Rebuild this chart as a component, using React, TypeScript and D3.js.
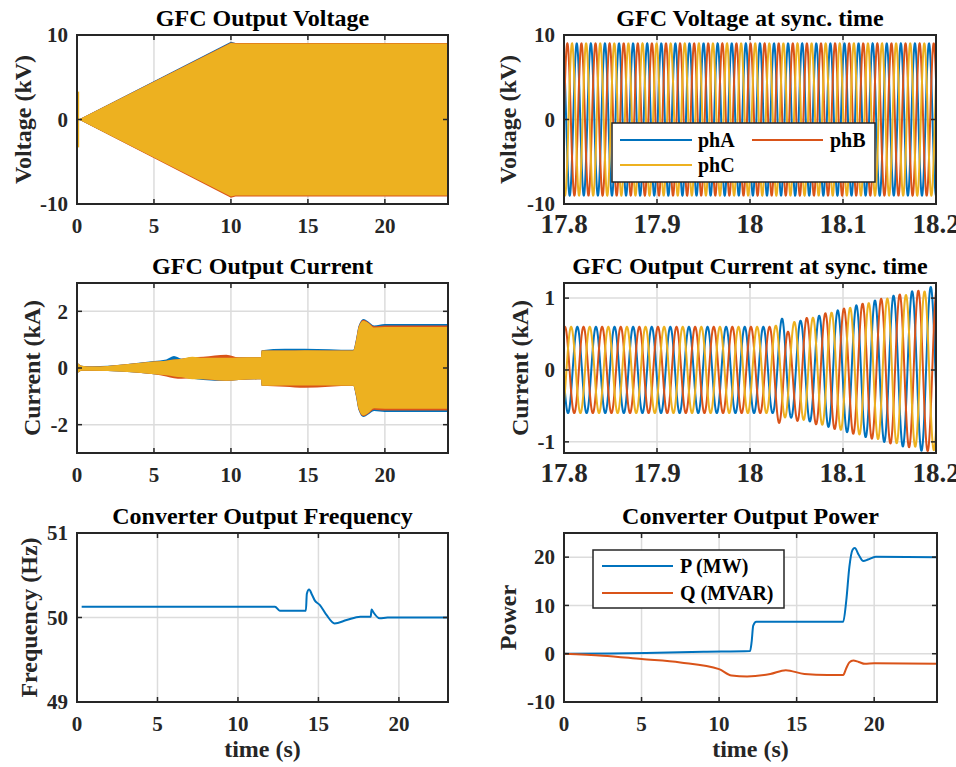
import React from 'react';
import * as d3 from 'd3';

const BLUE = '#0072BD';
const ORANGE = '#D95319';
const YELLOW = '#EDB120';
const INK = '#262626';
const GRID = '#dcdcdc';
const FONT = '"Liberation Serif","Times New Roman",Times,serif';

// ---------- Panel 1: GFC output voltage envelope (kV) ----------
const vEnvT = [0.12, 10, 10.3, 24.1];
const vBlueUp = [0, 9.2, 9.05, 9.05];
const vBlueLo = [0, -9.1, -9.0, -9.0];
const vOrangeUp = [0, 9.1, 9.05, 9.05];
const vOrangeLo = [0, -9.25, -9.1, -9.1];
const vYellowUp = [0, 9.05, 9.0, 9.0];
const vYellowLo = [0, -9.1, -9.0, -9.0];
const vSpikeT = 0.06;
const vSpikeAmp = 3.3;

// ---------- Panel 2: voltage at sync time ----------
const vSyncDomain = [17.8, 18.2];
const vSyncAmp = 9.0;
const vSyncFreq = 66;
const vSyncPeakB = 17.8036;

// ---------- Panel 3: GFC output current envelope (kA) ----------
const cT = [0, 0.3, 1, 5, 5.8, 6.3, 6.8, 7.5, 8.2, 9.7, 10.5, 11.95, 12.0, 13.5, 14.8, 17.95, 18.1, 18.3, 18.6, 18.9, 19.3, 20, 24.1];
const cYellowUp = [0.2, 0.08, 0.05, 0.23, 0.26, 0.3, 0.33, 0.4, 0.36, 0.36, 0.37, 0.38, 0.62, 0.62, 0.63, 0.62, 0.9, 1.45, 1.67, 1.6, 1.43, 1.45, 1.45];
const cYellowLo = [-0.2, -0.1, -0.1, -0.22, -0.26, -0.3, -0.33, -0.4, -0.4, -0.45, -0.42, -0.4, -0.63, -0.62, -0.62, -0.63, -0.9, -1.45, -1.68, -1.6, -1.42, -1.44, -1.44];
const cBlueUp = [0.2, 0.08, 0.06, 0.25, 0.3, 0.42, 0.33, 0.38, 0.36, 0.36, 0.37, 0.38, 0.63, 0.68, 0.68, 0.64, 0.95, 1.5, 1.73, 1.65, 1.5, 1.55, 1.55];
const cBlueLo = [-0.2, -0.1, -0.1, -0.22, -0.26, -0.3, -0.33, -0.38, -0.42, -0.45, -0.42, -0.4, -0.63, -0.62, -0.62, -0.63, -0.95, -1.5, -1.73, -1.65, -1.52, -1.55, -1.55];
const cOrangeUp = [0.2, 0.08, 0.05, 0.23, 0.26, 0.3, 0.33, 0.38, 0.4, 0.47, 0.38, 0.38, 0.62, 0.62, 0.62, 0.62, 0.92, 1.47, 1.7, 1.62, 1.47, 1.5, 1.5];
const cOrangeLo = [-0.2, -0.1, -0.1, -0.22, -0.3, -0.36, -0.38, -0.36, -0.4, -0.45, -0.42, -0.4, -0.63, -0.66, -0.7, -0.63, -0.92, -1.47, -1.7, -1.62, -1.47, -1.5, -1.5];

// ---------- Panel 4: current at sync time ----------
const iSyncDomain = [17.8, 18.2];
const iSyncFreq = 50;
const iSyncPeakB = 17.801;
const iT = [17.8, 18.025, 18.035, 18.045, 18.06, 18.1, 18.15, 18.2];
const iAmpA = [0.6, 0.6, 0.72, 0.66, 0.7, 0.85, 1.02, 1.17];
const iAmpB = [0.6, 0.6, 0.7, 0.6, 0.72, 0.85, 1.02, 1.15];
const iAmpC = [0.6, 0.6, 0.66, 0.66, 0.7, 0.84, 1.0, 1.12];
const iOffB = [0, 0, -0.12, -0.1, 0, 0, 0, 0];

// ---------- Panel 5: converter output frequency (Hz) ----------
const fT = [0.29, 12.3, 12.6, 14.22, 14.28, 14.42, 14.6, 14.78, 15.08, 15.5, 16.0, 16.75, 17.6, 18.25, 18.3, 18.42, 18.8, 19.3, 20, 23.05];
const fV = [50.128, 50.128, 50.08, 50.08, 50.28, 50.33, 50.27, 50.2, 50.15, 50.03, 49.93, 49.97, 50.01, 50.01, 50.095, 50.06, 49.99, 50.0, 50.0, 50.0];

// ---------- Panel 6: converter output power ----------
const pT = [0, 3, 6, 9, 12.0, 12.1, 12.2, 12.4, 15, 18.0, 18.2, 18.4, 18.6, 18.75, 19.0, 19.3, 19.6, 20.1, 24.1];
const pV = [0, 0.05, 0.2, 0.4, 0.55, 2.5, 5.8, 6.6, 6.6, 6.6, 11, 18, 21.5, 21.9, 20.5, 19.2, 19.5, 20.1, 20.0];
const qT = [0, 2.5, 5, 7.5, 10, 10.8, 11.8, 13.3, 14.3, 15.5, 17, 18.0, 18.2, 18.4, 18.65, 19.0, 19.4, 20, 24.1];
const qV = [0, -0.4, -1.1, -1.8, -3.2, -4.5, -4.7, -4.2, -3.4, -4.2, -4.4, -4.4, -3.0, -1.8, -1.4, -1.7, -2.1, -2.0, -2.1];

const ticks0to20 = [0, 5, 10, 15, 20];
const ticksSync = [17.8, 17.9, 18, 18.1, 18.2];
const ticksSyncLabels = ['17.8', '17.9', '18', '18.1', '18.2'];

type Scale = d3.ScaleLinear<number, number>;

interface AxesProps {
  id: string;
  left: number; top: number; width: number; height: number;
  xDomain: number[]; yDomain: number[];
  xTicks: number[]; yTicks: number[];
  xTickLabels?: string[];
  xTickFont: number;
  title: string; yLabel: string; yLabelX: number; xLabel?: string;
  children: (x: Scale, y: Scale) => React.ReactNode;
  overlay?: React.ReactNode;
}

function Axes(p: AxesProps) {
  const x = d3.scaleLinear().domain(p.xDomain).range([p.left, p.left + p.width]);
  const y = d3.scaleLinear().domain(p.yDomain).range([p.top + p.height, p.top]);
  const b = p.top + p.height;
  const r = p.left + p.width;
  const tl = 5;
  return (
    <g>
      <defs>
        <clipPath id={p.id}>
          <rect x={p.left} y={p.top} width={p.width} height={p.height} />
        </clipPath>
      </defs>
      <rect x={p.left} y={p.top} width={p.width} height={p.height} fill="#fff" />
      {p.xTicks.map((t) => (
        <line key={'gx' + t} x1={x(t)} x2={x(t)} y1={p.top} y2={b} stroke={GRID} strokeWidth={1.5} />
      ))}
      {p.yTicks.map((t) => (
        <line key={'gy' + t} x1={p.left} x2={r} y1={y(t)} y2={y(t)} stroke={GRID} strokeWidth={1.5} />
      ))}
      <g clipPath={`url(#${p.id})`}>{p.children(x, y)}</g>
      {p.xTicks.map((t) => (
        <g key={'tx' + t}>
          <line x1={x(t)} x2={x(t)} y1={b} y2={b - tl} stroke={INK} strokeWidth={1.5} />
          <line x1={x(t)} x2={x(t)} y1={p.top} y2={p.top + tl} stroke={INK} strokeWidth={1.5} />
        </g>
      ))}
      {p.yTicks.map((t) => (
        <g key={'ty' + t}>
          <line x1={p.left} x2={p.left + tl} y1={y(t)} y2={y(t)} stroke={INK} strokeWidth={1.5} />
          <line x1={r} x2={r - tl} y1={y(t)} y2={y(t)} stroke={INK} strokeWidth={1.5} />
        </g>
      ))}
      <rect x={p.left} y={p.top} width={p.width} height={p.height} fill="none" stroke={INK} strokeWidth={2} />
      {p.overlay}
      <g fontFamily={FONT} fontWeight="bold" fill={INK}>
        {p.xTicks.map((t, i) => (
          <text key={'lx' + t} x={x(t)} y={b + 29} textAnchor="middle" fontSize={p.xTickFont}>
            {p.xTickLabels ? p.xTickLabels[i] : String(t)}
          </text>
        ))}
        {p.yTicks.map((t) => (
          <text key={'ly' + t} x={p.left - 9} y={y(t)} dy="0.35em" textAnchor="end" fontSize={21}>
            {String(t)}
          </text>
        ))}
        <text x={p.left + p.width / 2} y={p.top - 9} textAnchor="middle" fontSize={24} fill="#000">
          {p.title}
        </text>
        <text
          transform={`translate(${p.yLabelX},${p.top + p.height / 2}) rotate(-90)`}
          textAnchor="middle"
          fontSize={24}
        >
          {p.yLabel}
        </text>
        {p.xLabel && (
          <text x={p.left + p.width / 2} y={757} textAnchor="middle" fontSize={24}>
            {p.xLabel}
          </text>
        )}
      </g>
    </g>
  );
}

function band(x: Scale, y: Scale, t: number[], up: number[], lo: number[], curve = d3.curveMonotoneX) {
  const idx = t.map((_, i) => i);
  return d3
    .area<number>()
    .x((i) => x(t[i]))
    .y0((i) => y(lo[i]))
    .y1((i) => y(up[i]))
    .curve(curve)(idx) as string;
}

function wave(
  x: Scale, y: Scale, domain: number[], freq: number, tPeak: number, shift: number,
  amp: (t: number) => number, off: (t: number) => number
) {
  const n = 3000;
  const pts: [number, number][] = [];
  for (let k = 0; k <= n; k++) {
    const t = domain[0] + ((domain[1] - domain[0]) * k) / n;
    const v = amp(t) * Math.cos(2 * Math.PI * freq * (t - tPeak) + shift) + off(t);
    pts.push([x(t), y(v)]);
  }
  return d3.line()(pts) as string;
}

const SHIFT_A = (2 * Math.PI) / 3;
const SHIFT_B = 0;
const SHIFT_C = (-2 * Math.PI) / 3;

export default function App() {
  const lineGen = (x: Scale, y: Scale, t: number[], v: number[]) =>
    d3
      .line<number>()
      .x((i) => x(t[i]))
      .y((i) => y(v[i]))
      .curve(d3.curveMonotoneX)(t.map((_, i) => i)) as string;

  const ampA = d3.scaleLinear().domain(iT).range(iAmpA).clamp(true);
  const ampB = d3.scaleLinear().domain(iT).range(iAmpB).clamp(true);
  const ampC = d3.scaleLinear().domain(iT).range(iAmpC).clamp(true);
  const offB = d3.scaleLinear().domain(iT).range(iOffB).clamp(true);
  const zero = () => 0;
  const constV = () => vSyncAmp;

  return (
    <svg
      width={956}
      height={767}
      style={{ position: 'absolute', left: 0, top: 0, background: '#fff' }}
      xmlns="http://www.w3.org/2000/svg"
    >
      <rect x={0} y={0} width={956} height={767} fill="#fff" />

      {/* Panel 1 */}
      <Axes
        id="c1" left={77} top={35} width={371} height={169}
        xDomain={[0, 24.1]} yDomain={[-10, 10]} xTicks={ticks0to20} yTicks={[-10, 0, 10]}
        xTickFont={21} title="GFC Output Voltage" yLabel="Voltage (kV)" yLabelX={31}
      >
        {(x, y) => (
          <g>
            <path d={band(x, y, vEnvT, vBlueUp, vBlueLo, d3.curveLinear)} fill={BLUE} />
            <path d={band(x, y, vEnvT, vOrangeUp, vOrangeLo, d3.curveLinear)} fill={ORANGE} />
            <path d={band(x, y, vEnvT, vYellowUp, vYellowLo, d3.curveLinear)} fill={YELLOW} />
            <line x1={x(vSpikeT)} x2={x(vSpikeT)} y1={y(vSpikeAmp)} y2={y(-vSpikeAmp)} stroke={YELLOW} strokeWidth={2.5} />
          </g>
        )}
      </Axes>

      {/* Panel 2 */}
      <Axes
        id="c2" left={564} top={35} width={372} height={169}
        xDomain={vSyncDomain} yDomain={[-10, 10]} xTicks={ticksSync} xTickLabels={ticksSyncLabels}
        yTicks={[-10, 0, 10]} xTickFont={27} title="GFC Voltage at sync. time" yLabel="Voltage (kV)" yLabelX={516}
        overlay={
          <g fontFamily={FONT} fontWeight="bold" fontSize={20} fill="#000">
            <rect x={612} y={123} width={263} height={59} fill="#fff" stroke={INK} strokeWidth={1.5} />
            <line x1={620} x2={692} y1={140} y2={140} stroke={BLUE} strokeWidth={2} />
            <text x={698} y={147}>phA</text>
            <line x1={752} x2={823} y1={140} y2={140} stroke={ORANGE} strokeWidth={2} />
            <text x={830} y={147}>phB</text>
            <line x1={620} x2={692} y1={165} y2={165} stroke={YELLOW} strokeWidth={2} />
            <text x={698} y={172}>phC</text>
          </g>
        }
      >
        {(x, y) => (
          <g fill="none" strokeWidth={2}>
            <path d={wave(x, y, vSyncDomain, vSyncFreq, vSyncPeakB, SHIFT_A, constV, zero)} stroke={BLUE} />
            <path d={wave(x, y, vSyncDomain, vSyncFreq, vSyncPeakB, SHIFT_B, constV, zero)} stroke={ORANGE} />
            <path d={wave(x, y, vSyncDomain, vSyncFreq, vSyncPeakB, SHIFT_C, constV, zero)} stroke={YELLOW} />
          </g>
        )}
      </Axes>

      {/* Panel 3 */}
      <Axes
        id="c3" left={77} top={283} width={371} height={170}
        xDomain={[0, 24.1]} yDomain={[-3, 3]} xTicks={ticks0to20} yTicks={[-2, 0, 2]}
        xTickFont={21} title="GFC Output Current" yLabel="Current (kA)" yLabelX={40}
      >
        {(x, y) => (
          <g>
            <path d={band(x, y, cT, cBlueUp, cBlueLo)} fill={BLUE} />
            <path d={band(x, y, cT, cOrangeUp, cOrangeLo)} fill={ORANGE} />
            <path d={band(x, y, cT, cYellowUp, cYellowLo)} fill={YELLOW} />
          </g>
        )}
      </Axes>

      {/* Panel 4 */}
      <Axes
        id="c4" left={564} top={283} width={372} height={170}
        xDomain={iSyncDomain} yDomain={[-1.155, 1.21]} xTicks={ticksSync} xTickLabels={ticksSyncLabels}
        yTicks={[-1, 0, 1]} xTickFont={27} title="GFC Output Current at sync. time" yLabel="Current (kA)" yLabelX={528}
      >
        {(x, y) => (
          <g fill="none" strokeWidth={2}>
            <path d={wave(x, y, iSyncDomain, iSyncFreq, iSyncPeakB, SHIFT_A, ampA, zero)} stroke={BLUE} />
            <path d={wave(x, y, iSyncDomain, iSyncFreq, iSyncPeakB, SHIFT_B, ampB, offB)} stroke={ORANGE} />
            <path d={wave(x, y, iSyncDomain, iSyncFreq, iSyncPeakB, SHIFT_C, ampC, zero)} stroke={YELLOW} />
          </g>
        )}
      </Axes>

      {/* Panel 5 */}
      <Axes
        id="c5" left={77} top={533} width={371} height={169}
        xDomain={[0, 23.05]} yDomain={[49, 51]} xTicks={ticks0to20} yTicks={[49, 50, 51]}
        xTickFont={21} title="Converter Output Frequency" yLabel="Frequency (Hz)" yLabelX={37} xLabel="time (s)"
      >
        {(x, y) => <path d={lineGen(x, y, fT, fV)} fill="none" stroke={BLUE} strokeWidth={2} />}
      </Axes>

      {/* Panel 6 */}
      <Axes
        id="c6" left={564} top={533} width={373} height={169}
        xDomain={[0, 24.05]} yDomain={[-10, 25]} xTicks={ticks0to20} yTicks={[-10, 0, 10, 20]}
        xTickFont={21} title="Converter Output Power" yLabel="Power" yLabelX={516} xLabel="time (s)"
        overlay={
          <g fontFamily={FONT} fontWeight="bold" fontSize={20} fill="#000">
            <rect x={593} y={550} width={191} height={58} fill="#fff" stroke={INK} strokeWidth={1.5} />
            <line x1={602} x2={673} y1={566} y2={566} stroke={BLUE} strokeWidth={2} />
            <text x={680} y={573}>P (MW)</text>
            <line x1={602} x2={673} y1={593} y2={593} stroke={ORANGE} strokeWidth={2} />
            <text x={680} y={600}>Q (MVAR)</text>
          </g>
        }
      >
        {(x, y) => (
          <g fill="none" strokeWidth={2}>
            <path d={lineGen(x, y, pT, pV)} stroke={BLUE} />
            <path d={lineGen(x, y, qT, qV)} stroke={ORANGE} />
          </g>
        )}
      </Axes>
    </svg>
  );
}
